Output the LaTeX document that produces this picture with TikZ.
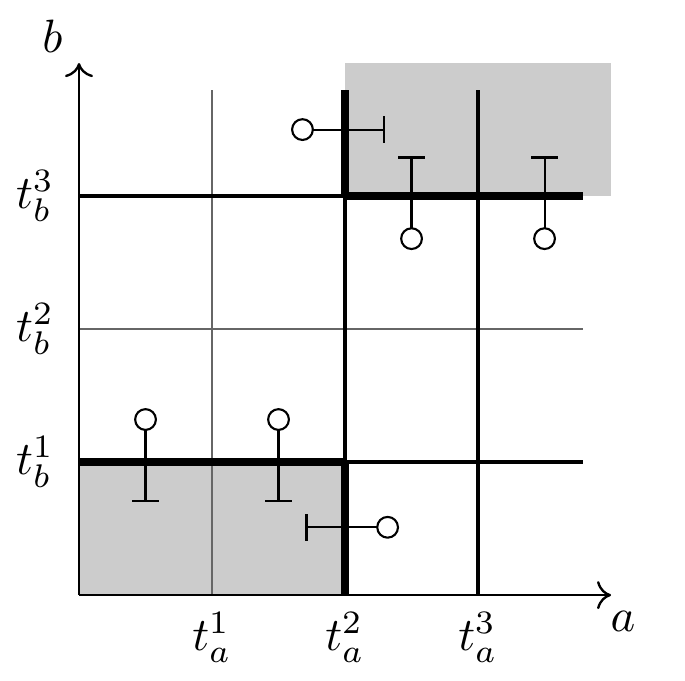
\documentclass[tikz,border=0pt]{standalone}
\usetikzlibrary{arrows.meta}
\begin{document}
\begin{tikzpicture}[x=1cm,y=1cm,
  thingrid/.style={line width=0.35pt, draw=black!60},
  midline/.style={line width=0.85pt},
  thickline/.style={line width=1.6pt},
  axis/.style={line width=0.5pt, -{To[length=3pt,width=6pt]}},
  region/.style={fill=black!20, draw=none},
  stem/.style={line width=0.45pt},
  knob/.style={line width=0.45pt, draw=black, fill=white},
  lab/.style={inner sep=0pt, font=\normalsize}]
\useasboundingbox (-0.594,-0.639) rectangle (4.556,4.474);
% shaded regions
\fill[region] (0,0) rectangle (2,1);
\fill[region] (2,3) rectangle (4,4);
% thin grid lines
\draw[thingrid] (1,0) -- (1,3.8);
\draw[thingrid] (0,2) -- (3.79,2);
% medium lines
\draw[midline] (0,3) -- (2,3);
\draw[midline] (2,1) -- (3.79,1);
\draw[midline] (2,1) -- (2,3);
\draw[midline] (3,0) -- (3,3.8);
% thick lines
\draw[thickline] (0,1) -- (2,1);
\draw[thickline] (2,0) -- (2,1);
\draw[thickline] (2,3) -- (3.79,3);
\draw[thickline] (2,3) -- (2,3.8);
% axes
\coordinate (O) at (0,0);
\coordinate (xend) at (4,0);
\coordinate (yend) at (0,4);
\draw[axis] (O) -- (xend);
\draw[axis] (O) -- (yend);
% axis labels
\node[lab] (la) at (4.09,-0.2) {$a$};
\node[lab] (lb) at (-0.2,4.2) {$b$};
\node[lab] (ta1) at (1,-0.32) {$t_a^1$};
\node[lab] (ta2) at (2,-0.32) {$t_a^2$};
\node[lab] (ta3) at (3,-0.32) {$t_a^3$};
\node[lab] (tb1) at (-0.33,1) {$t_b^1$};
\node[lab] (tb2) at (-0.33,2) {$t_b^2$};
\node[lab] (tb3) at (-0.33,3) {$t_b^3$};
% markers: bar end (B) and circle end (C)
\coordinate (B1) at (2.29,3.5);  \coordinate (C1) at (1.68,3.5);
\coordinate (B2) at (2.5,3.29);  \coordinate (C2) at (2.5,2.68);
\coordinate (B3) at (3.5,3.29);  \coordinate (C3) at (3.5,2.68);
\coordinate (B4) at (0.5,0.71);  \coordinate (C4) at (0.5,1.32);
\coordinate (B5) at (1.5,0.71);  \coordinate (C5) at (1.5,1.32);
\coordinate (B6) at (1.71,0.51); \coordinate (C6) at (2.32,0.51);
% stems
\draw[stem] (B1) -- (C1);
\draw[stem] (B2) -- (C2);
\draw[stem] (B3) -- (C3);
\draw[stem] (B4) -- (C4);
\draw[stem] (B5) -- (C5);
\draw[stem] (B6) -- (C6);
% bars
\draw[stem] ([yshift=-0.1cm]B1) -- ([yshift=0.1cm]B1);
\draw[stem] ([xshift=-0.1cm]B2) -- ([xshift=0.1cm]B2);
\draw[stem] ([xshift=-0.1cm]B3) -- ([xshift=0.1cm]B3);
\draw[stem] ([xshift=-0.1cm]B4) -- ([xshift=0.1cm]B4);
\draw[stem] ([xshift=-0.1cm]B5) -- ([xshift=0.1cm]B5);
\draw[stem] ([yshift=-0.1cm]B6) -- ([yshift=0.1cm]B6);
% circles
\foreach \c in {C1,C2,C3,C4,C5,C6} {\draw[knob] (\c) circle (0.078);}
\end{tikzpicture}
\end{document}
